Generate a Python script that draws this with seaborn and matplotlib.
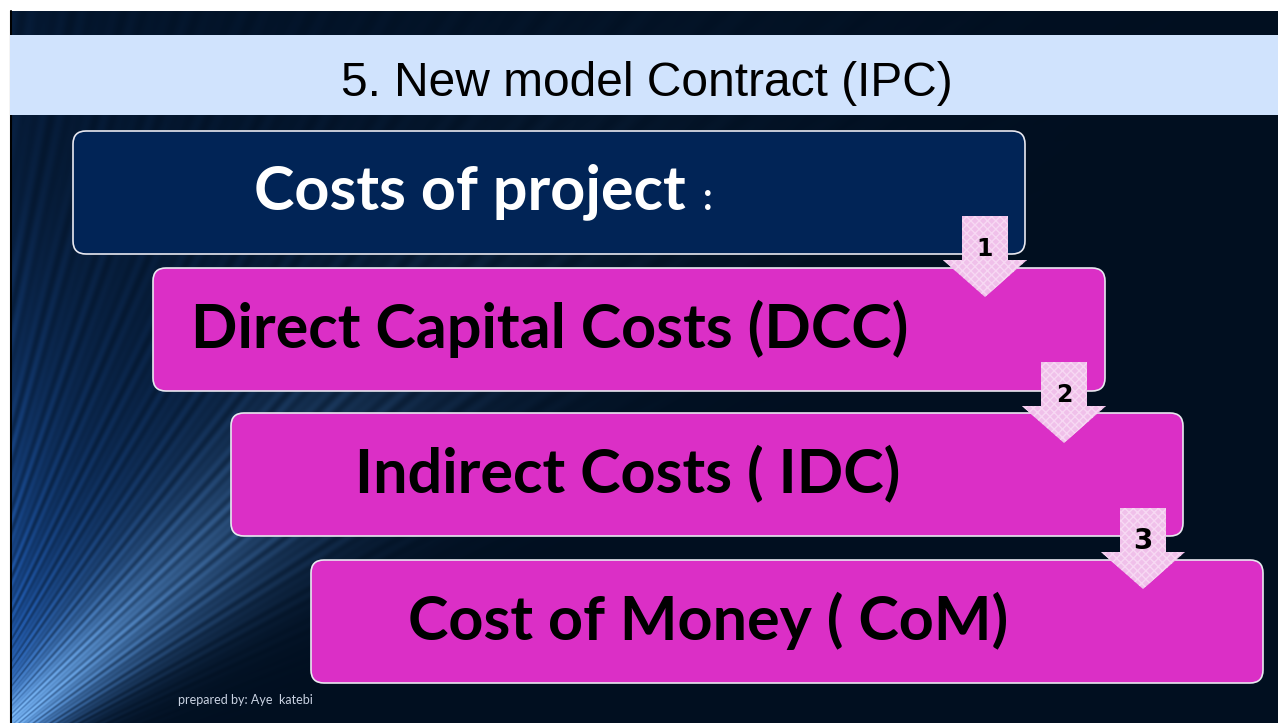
"""
Slide recreation: New model Contract (IPC) - costs of project staircase.
"""

import matplotlib.pyplot as plt
import numpy as np
import seaborn as sns
from matplotlib.patches import FancyBboxPatch, Polygon, Rectangle

W, H = 1278, 723

TITLE = "5. New model Contract (IPC)"
BOX_LABELS = [
    "Costs of project",
    "Direct Capital Costs (DCC)",
    "Indirect Costs ( IDC)",
    "Cost of Money ( CoM)",
]
STEP_NUMBERS = ["1", "2", "3"]
FOOTER = "prepared by: Aye  katebi"

NAVY = "#012456"
MAGENTA = "#db2fc6"
ARROW_PINK = "#f0c0ea"
TITLE_BAR = "#d0e3fd"
BG_DARK = np.array([1, 15, 32]) / 255
GLOW_MID = np.array([30, 85, 165]) / 255
GLOW_HI = np.array([125, 185, 245]) / 255

sns.set_theme(style="white")
plt.rcParams["font.family"] = ["Lato", "DejaVu Sans"]


def make_background(w: int, h: int) -> np.ndarray:
    yy, xx = np.mgrid[0:h, 0:w].astype(float)
    # fan of light streaks coming from beyond the bottom-left corner
    dx = xx + 100
    up = (h + 90) - yy
    r = np.hypot(dx, up)
    theta = np.degrees(np.arctan2(up, dx))
    window = 1 / (1 + np.exp(-(theta - 32) / 3.0))
    fan = window * np.exp(-(r - 180) / 300.0)
    band = np.exp(-((theta - 42) / 10.0) ** 2) * np.exp(-(r - 160) / 230.0)
    edge = np.exp(-xx / 50.0) * 0.45 * np.clip(yy / h, 0.25, 1)
    streaks = 0.75 + 0.25 * np.sin(np.radians(theta) * 260) * np.sin(np.radians(theta) * 47)
    mid = np.clip((fan * 0.9 + edge) * streaks, 0, 1)
    hi = np.clip(band * 1.0 * streaks, 0, 1)
    img = BG_DARK * (1 - mid[..., None]) + GLOW_MID * mid[..., None]
    img = img * (1 - hi[..., None]) + GLOW_HI * hi[..., None]
    return np.clip(img, 0, 1)


def main() -> None:
    fig = plt.figure(figsize=(W / 100, H / 100), dpi=100)
    fig.patch.set_facecolor("white")
    ax = fig.add_axes([0, 0, 1, 1])
    ax.set_xlim(0, W)
    ax.set_ylim(H, 0)
    ax.axis("off")

    ax.imshow(make_background(W - 10, H - 11), extent=(10, W, H, 11), aspect="auto", zorder=0)
    ax.plot([10.5, 10.5], [11, H], color="black", lw=1.5, zorder=1)

    # title bar
    ax.add_patch(Rectangle((10, 35), W - 10, 80, facecolor=TITLE_BAR, edgecolor="none", zorder=2))
    ax.text(647, 84, TITLE, ha="center", va="center", fontsize=34.5,
            family=["Liberation Sans", "DejaVu Sans"], color="black", zorder=3)

    # staircase boxes
    lefts = [73, 153, 231, 311]
    tops = [131, 268, 413, 560]
    box_w, box_h = 952, 123
    for i, label in enumerate(BOX_LABELS):
        face = NAVY if i == 0 else MAGENTA
        ax.add_patch(FancyBboxPatch(
            (lefts[i], tops[i]), box_w, box_h,
            boxstyle="round,pad=0,rounding_size=13",
            facecolor=face, edgecolor="#e8e8f0", linewidth=1.2, zorder=4,
        ))
        ax.text(lefts[i] + 397, tops[i] + box_h / 2 - 1, label, ha="center", va="center",
                fontsize=44, fontweight="bold", color="white" if i == 0 else "black", zorder=5)
    ax.text(708, 199, ":", ha="center", va="center", fontsize=27, fontweight="bold",
            color="white", zorder=5)

    # down arrows with step numbers
    for i, num in enumerate(STEP_NUMBERS):
        cx = 985 + 79 * i
        top = 216 + 146 * i
        base = top + 44
        tip = top + 81
        pts = [
            (cx - 23, top), (cx + 23, top), (cx + 23, base), (cx + 42, base),
            (cx, tip), (cx - 42, base), (cx - 23, base),
        ]
        ax.add_patch(Polygon(pts, closed=True, facecolor=ARROW_PINK, edgecolor="#f7d8f3",
                             linewidth=0, hatch="xxxx", zorder=6))
        ax.text(cx, top + 33, num, ha="center", va="center", fontsize=17 if i < 2 else 20,
                fontweight="bold", color="black", family=["DejaVu Sans"], zorder=7)

    ax.text(178, 700, FOOTER, ha="left", va="center", fontsize=9, color="#c9d2e2", zorder=5)

    fig.savefig("out.png", dpi=100)
    plt.close(fig)


if __name__ == "__main__":
    main()
